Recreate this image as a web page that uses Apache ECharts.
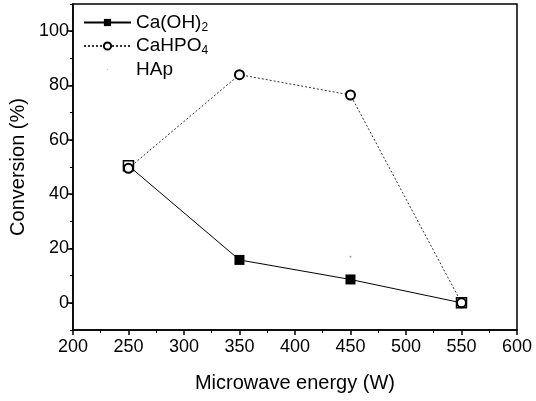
<!DOCTYPE html>
<html>
<head>
<meta charset="utf-8">
<script src="https://cdn.jsdelivr.net/npm/echarts@6/dist/echarts.min.js"></script>
<style>
  html, body { margin: 0; padding: 0; background: #fff; }
  #chart { width: 536px; height: 401px; }
</style>
</head>
<body>
<div id="chart"></div>
<script>
// data
const energy = [250, 350, 450, 550]
const caOH2 = [50.5, 15.8, 8.6, 0]
const caHPO4 = [49.5, 84, 76.5, 0]
const hapEnergy = [450]
const hap = [17]
const yLabels = [0, 20, 40, 60, 80, 100]
// points where the square is drawn hollow in the scan
const hollowIdx = [0, 3]

const font = 'Liberation Sans, Arial, sans-serif'
const chart = echarts.init(document.getElementById('chart'))

const pairs = (xs, ys) => xs.map((x, i) => [x, ys[i]])

const option = {
  animation: false,
  backgroundColor: '#fff',
  grid: {
    left: 70,
    right: 19,
    top: 4,
    bottom: 71,
    show: true,
    borderColor: '#000',
    borderWidth: 1.5
  },
  legend: {
    orient: 'vertical',
    left: 78,
    top: 8,
    itemWidth: 47,
    itemHeight: 9,
    itemGap: 3,
    textStyle: {
      fontFamily: font,
      fontSize: 19,
      color: '#000',
      rich: {
        sub: { fontFamily: font, fontSize: 12, color: '#000', verticalAlign: 'bottom', padding: [10, 0, 0, 0] }
      }
    },
    formatter: name => {
      if (name === 'Ca(OH)2') return 'Ca(OH){sub|2}'
      if (name === 'CaHPO4') return 'CaHPO{sub|4}'
      return name
    },
    data: ['Ca(OH)2', 'CaHPO4', {
      name: 'HAp',
      // just a faint dot in the scan
      icon: 'path://M0 0h0.05v0.05h-0.05z M5 5h1v1h-1z M10.95 10.95h0.05v0.05h-0.05z',
      itemStyle: { color: '#aaa' }
    }]
  },
  xAxis: {
    type: 'value',
    min: 200,
    max: 600,
    interval: 50,
    name: 'Microwave energy (W)',
    nameLocation: 'middle',
    nameGap: 43,
    nameTextStyle: { fontFamily: font, fontSize: 20, color: '#000' },
    axisLine: { onZero: false, lineStyle: { color: '#000', width: 1.5 } },
    axisTick: { length: 5, lineStyle: { color: '#000', width: 1.5 } },
    minorTick: { show: true, splitNumber: 2, length: 3, lineStyle: { color: '#000' } },
    splitLine: { show: false },
    axisLabel: { fontFamily: font, fontSize: 18, color: '#000', margin: 8 }
  },
  yAxis: [{
    type: 'value',
    min: -10,
    max: 110,
    interval: 10,
    name: 'Conversion (%)',
    nameLocation: 'middle',
    nameGap: 40,
    nameTextStyle: { fontFamily: font, fontSize: 20, color: '#000' },
    axisLine: { lineStyle: { color: '#000', width: 1.5 } },
    axisTick: { customValues: yLabels, length: 5, lineStyle: { color: '#000', width: 1.5 } },
    splitLine: { show: false },
    axisLabel: { customValues: yLabels, fontFamily: font, fontSize: 18, color: '#000', margin: 4 }
  }, {
    // minor ticks every 10
    type: 'value',
    position: 'left',
    min: -10,
    max: 110,
    interval: 10,
    axisLine: { show: false },
    axisTick: { length: 3, lineStyle: { color: '#000' } },
    axisLabel: { show: false },
    splitLine: { show: false }
  }],
  series: [{
    name: 'Ca(OH)2',
    type: 'line',
    data: pairs(energy, caOH2).map((p, i) => hollowIdx.includes(i)
      ? { value: p, itemStyle: { color: '#fff', borderColor: '#000', borderWidth: 1.5 } }
      : p),
    symbol: 'rect',
    symbolSize: 10,
    itemStyle: { color: '#000', borderColor: '#000', borderWidth: 0 },
    lineStyle: { color: '#000', width: 1 },
    z: 2
  }, {
    name: 'CaHPO4',
    type: 'line',
    data: pairs(energy, caHPO4),
    symbol: 'circle',
    symbolSize: 9,
    showAllSymbol: true,
    itemStyle: { color: '#fff', borderColor: '#000', borderWidth: 2 },
    lineStyle: { color: '#333', width: 1, type: [2, 2] },
    z: 3
  }, {
    name: 'HAp',
    type: 'line',
    data: pairs(hapEnergy, hap),
    symbol: 'circle',
    symbolSize: 2,
    itemStyle: { color: '#999' },
    lineStyle: { width: 0, opacity: 0 },
    z: 1
  }]
}

chart.setOption(option)
</script>
</body>
</html>
